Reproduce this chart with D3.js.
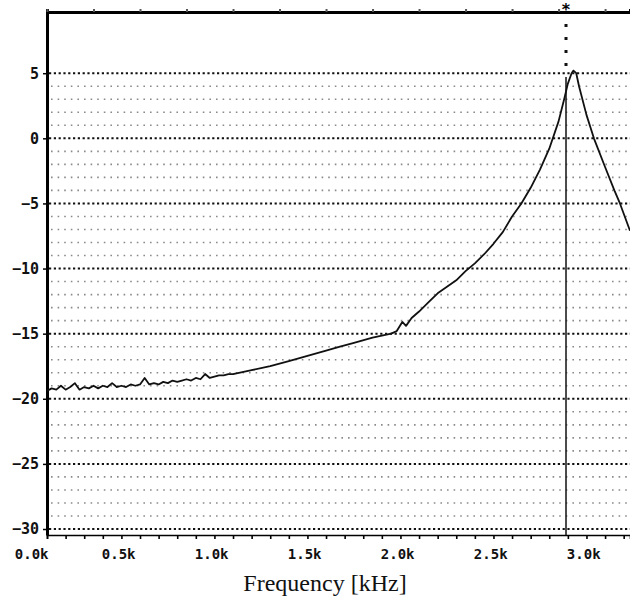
<!DOCTYPE html>
<html>
<head>
<meta charset="utf-8">
<script src="https://cdn.jsdelivr.net/npm/d3@7"></script>
<style>
    body { margin: 0; background: #fff; }
    svg { display: block; }
</style>
</head>
<body>
<svg id="vis" width="630" height="600"></svg>
<script>
/**
 * measured response, read off the printout
 * frequency in kHz, level in dB
 */
var freqs = [
    0.000, 0.025, 0.050, 0.075, 0.100, 0.125, 0.150, 0.175, 0.200, 0.225,
    0.250, 0.275, 0.300, 0.325, 0.350, 0.375, 0.400, 0.425, 0.450, 0.475,
    0.500, 0.525, 0.550, 0.575, 0.600, 0.625, 0.650, 0.675, 0.700, 0.725,
    0.750, 0.775, 0.800, 0.825, 0.850, 0.875, 0.900, 0.925, 0.950, 0.975,
    1.00, 1.10, 1.20, 1.30, 1.40, 1.50, 1.575, 1.65, 1.75, 1.85,
    1.88, 1.91, 1.93, 1.96, 2.00, 2.05, 2.10, 2.15, 2.20, 2.25,
    2.30, 2.35, 2.40, 2.45, 2.50, 2.55, 2.60, 2.65, 2.70, 2.75,
    2.78, 2.80, 2.82, 2.83, 2.845, 2.86, 2.90, 2.94, 3.00, 3.05,
    3.08, 3.134
];
var levels = [
    -19.4, -19.2, -19.3, -19.0, -19.3, -19.1, -18.8, -19.3, -19.1, -19.2,
    -19.0, -19.2, -19.0, -19.1, -18.8, -19.1, -19.0, -19.1, -18.9, -19.0,
    -18.9, -18.4, -18.9, -18.8, -18.9, -18.7, -18.8, -18.6, -18.7, -18.6,
    -18.5, -18.6, -18.4, -18.5, -18.1, -18.4, -18.3, -18.2, -18.2, -18.1,
    -18.1, -17.8, -17.5, -17.1, -16.7, -16.3, -16.0, -15.7, -15.3, -15.0,
    -14.8, -14.1, -14.4, -13.8, -13.3, -12.6, -11.9, -11.4, -10.9, -10.2,
    -9.6, -8.9, -8.1, -7.2, -6.0, -5.0, -3.8, -2.4, -0.8, 1.3,
    3.0, 4.2, 5.0, 5.2, 5.0, 4.0, 1.8, 0.0, -2.2, -4.0,
    -5.0, -7.1
];

// axis ticks
var xTicks = [0, 0.5, 1.0, 1.5, 2.0, 2.5, 3.0];
var xTickLabels = ["0.0k", "0.5k", "1.0k", "1.5k", "2.0k", "2.5k", "3.0k"];
var yTicks = [5, 0, -5, -10, -15, -20, -25, -30];
var markerFreq = 2.79;   // cursor line

const MARGINS = {top: 12, right: 0, bottom: 65, left: 47};
const WIDTH = 630, HEIGHT = 600;

var svg = d3.select("#vis");

var xScale = d3.scaleLinear()
    .domain([0, 3.134])
    .range([MARGINS.left, WIDTH - MARGINS.right]);
var yScale = d3.scaleLinear()
    .domain([-30.46, 9.7])
    .range([HEIGHT - MARGINS.bottom, MARGINS.top]);

var x0 = xScale.range()[0], x1 = xScale.range()[1];
var yBottom = yScale.range()[0], yTop = yScale.range()[1];

// minor grid, every 1 dB
var minor = d3.range(-29, 5).filter(function(d){ return d % 5 !== 0; });
svg.append("g").selectAll("line")
    .data(minor)
    .enter()
    .append("line")
    .attr("x1", x0 + 4).attr("x2", x1)
    .attr("y1", function(d){ return yScale(d); })
    .attr("y2", function(d){ return yScale(d); })
    .style("stroke", "#8a8a8a")
    .style("stroke-width", 1.6)
    .style("stroke-dasharray", "1.6,5");

// major grid, every 5 dB
svg.append("g").selectAll("line")
    .data(yTicks)
    .enter()
    .append("line")
    .attr("x1", x0 + 2).attr("x2", x1)
    .attr("y1", function(d){ return yScale(d); })
    .attr("y2", function(d){ return yScale(d); })
    .style("stroke", "#111")
    .style("stroke-width", 2)
    .style("stroke-dasharray", "2.2,2.6");

// bottom axis, minor ticks every 0.1k
var xMinor = d3.axisBottom(xScale)
    .tickValues(d3.range(0, 3.15, 0.1))
    .tickSize(4)
    .tickFormat("");
svg.append("g")
    .attr("transform", `translate(0, ${yBottom})`)
    .call(xMinor)
    .call(function(g){
        g.select(".domain").attr("stroke-width", 1.6);
        g.selectAll(".tick line").attr("stroke-width", 1.6);
    });

// bottom labels, printed just left of their tick
var xAxis = d3.axisBottom(xScale)
    .tickValues(xTicks)
    .tickSize(0)
    .tickPadding(14)
    .tickFormat(function(d, i){ return xTickLabels[i]; });
svg.append("g")
    .attr("transform", `translate(0, ${yBottom})`)
    .call(xAxis)
    .call(function(g){
        g.select(".domain").remove();
        g.selectAll("text")
            .attr("text-anchor", "end")
            .attr("dx", function(d){ return d === 0 ? 1 : -5; })
            .style("font-family", "'DejaVu Sans Mono', monospace")
            .style("font-weight", "bold")
            .style("font-size", "14px")
            .style("fill", "#111");
    });

// top border with its small ticks
var xTop = d3.axisTop(xScale)
    .tickValues(d3.range(0, 3.15, 0.25))
    .tickSize(3)
    .tickFormat("");
svg.append("g")
    .attr("transform", `translate(0, ${yTop})`)
    .call(xTop)
    .call(function(g){
        g.select(".domain").attr("stroke-width", 3);
        g.selectAll(".tick line").attr("stroke-width", 2).attr("stroke", "#555");
    });

// left axis
var yAxis = d3.axisLeft(yScale)
    .tickValues(yTicks)
    .tickSizeInner(4)
    .tickSizeOuter(0)
    .tickPadding(4);
svg.append("g")
    .attr("transform", `translate(${x0}, 0)`)
    .call(yAxis)
    .call(function(g){
        g.select(".domain").attr("stroke-width", 3);
        g.selectAll(".tick line").attr("stroke-width", 1.5);
        g.selectAll("text")
            .style("font-family", "'DejaVu Sans Mono', monospace")
            .style("font-weight", "bold")
            .style("font-size", "15px")
            .style("fill", "#111");
    });

// cursor: dotted above the 5 dB line, solid below
var mx = xScale(markerFreq);
svg.append("line")
    .attr("x1", mx).attr("x2", mx)
    .attr("y1", yTop + 12).attr("y2", yScale(5))
    .style("stroke", "#111")
    .style("stroke-width", 3)
    .style("stroke-dasharray", "3,10");
svg.append("line")
    .attr("x1", mx).attr("x2", mx)
    .attr("y1", yScale(4.7)).attr("y2", yBottom)
    .style("stroke", "#111")
    .style("stroke-width", 1.5);
svg.append("text")
    .attr("x", mx)
    .attr("y", yTop + 3)
    .attr("text-anchor", "middle")
    .style("font-family", "'DejaVu Sans', sans-serif")
    .style("font-size", "16px")
    .style("font-weight", "bold")
    .text("*");

// response curve
var line = d3.line()
    .x(function(d){ return xScale(d[0]); })
    .y(function(d){ return yScale(d[1]); });
svg.append("path")
    .datum(d3.zip(freqs, levels))
    .attr("d", line)
    .style("fill", "none")
    .style("stroke", "#111")
    .style("stroke-width", 1.8)
    .style("stroke-linejoin", "round");

// axis title
svg.append("text")
    .attr("x", 325)
    .attr("y", 591)
    .attr("text-anchor", "middle")
    .style("font-family", "'Liberation Serif', serif")
    .style("font-size", "24px")
    .style("fill", "#111")
    .text("Frequency [kHz]");
</script>
</body>
</html>
